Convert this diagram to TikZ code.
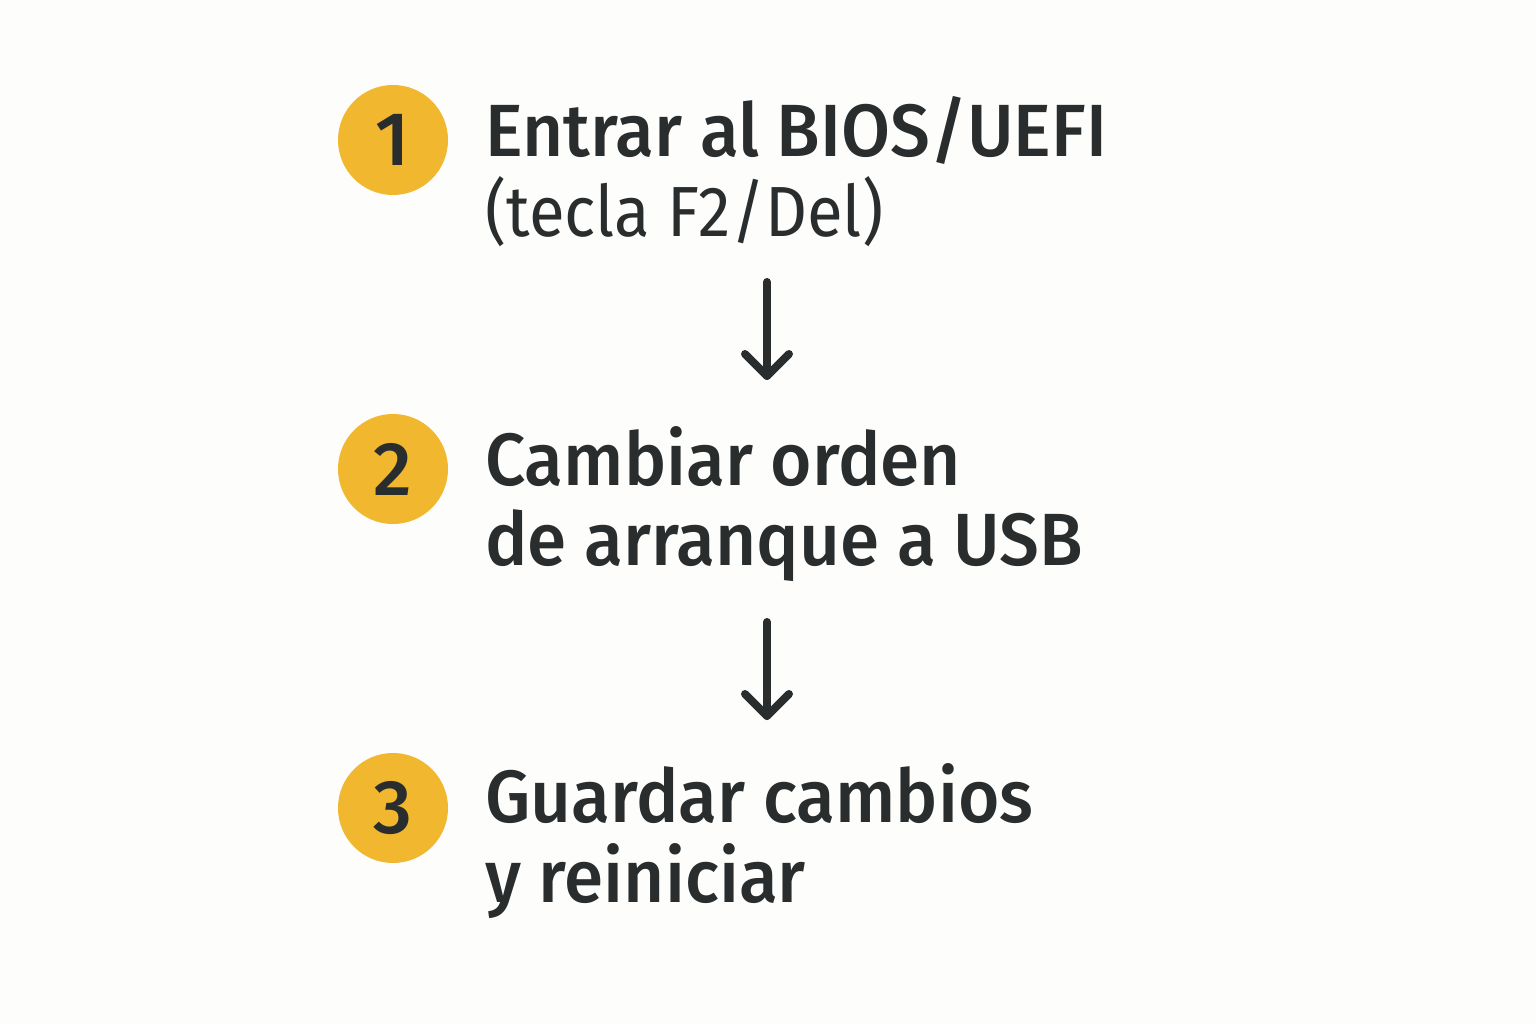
\documentclass[tikz,border=0pt]{standalone}
\usepackage{fontspec}
\setmainfont{Fira Sans}[BoldFont={Fira Sans Medium}]
\newfontfamily\headfont{Fira Sans Medium}[FakeStretch=0.96]
\newfontfamily\subfont{Fira Sans}[FakeStretch=0.92]
\definecolor{bgc}{HTML}{FDFDFB}
\definecolor{ink}{HTML}{2A2D2D}
\definecolor{gold}{HTML}{F0B72F}
\tikzset{
  numcirc/.style={circle, fill=gold, minimum size=110pt, inner sep=0pt, text=ink, font=\fontsize{76}{76}\selectfont\bfseries},
  headtxt/.style={anchor=base west, inner sep=0pt, text=ink, font=\fontsize{74}{74}\headfont},
  subtxt/.style={anchor=base west, inner sep=0pt, text=ink, font=\fontsize{71}{71}\subfont},
  flowarrow/.style={draw=ink, line width=8pt, line cap=round, line join=round},
}
\begin{document}
\begin{tikzpicture}[x=1pt, y=-1pt]
\fill[bgc] (0,0) rectangle (1536,1024);
\useasboundingbox (0,0) rectangle (1536,1024);
% step 1
\node[numcirc] (c1) at (393,140) {1};
\node[headtxt] (t1a) at (485,157) {Entrar al BIOS/UEFI};
\node[subtxt] (t1b) at (485,237) {(tecla F2/Del)};
% step 2
\node[numcirc] (c2) at (393,469) {2};
\node[headtxt] (t2a) at (485,485) {Cambiar orden};
\node[headtxt] (t2b) at (485,565) {de arranque a USB};
% step 3
\node[numcirc] (c3) at (393,808) {3};
\node[headtxt] (t3a) at (485,822) {Guardar cambios};
\node[headtxt] (t3b) at (485,902) {y reiniciar};
% arrows
\coordinate (a1s) at (767,282);
\coordinate (a1e) at (767,376);
\coordinate (a2s) at (767,622);
\coordinate (a2e) at (767,716);
\draw[flowarrow] (a1s) -- (a1e);
\draw[flowarrow] ([xshift=-22pt,yshift=22pt]a1e) -- (a1e) -- ([xshift=22pt,yshift=22pt]a1e);
\draw[flowarrow] (a2s) -- (a2e);
\draw[flowarrow] ([xshift=-22pt,yshift=22pt]a2e) -- (a2e) -- ([xshift=22pt,yshift=22pt]a2e);
\end{tikzpicture}
\end{document}
